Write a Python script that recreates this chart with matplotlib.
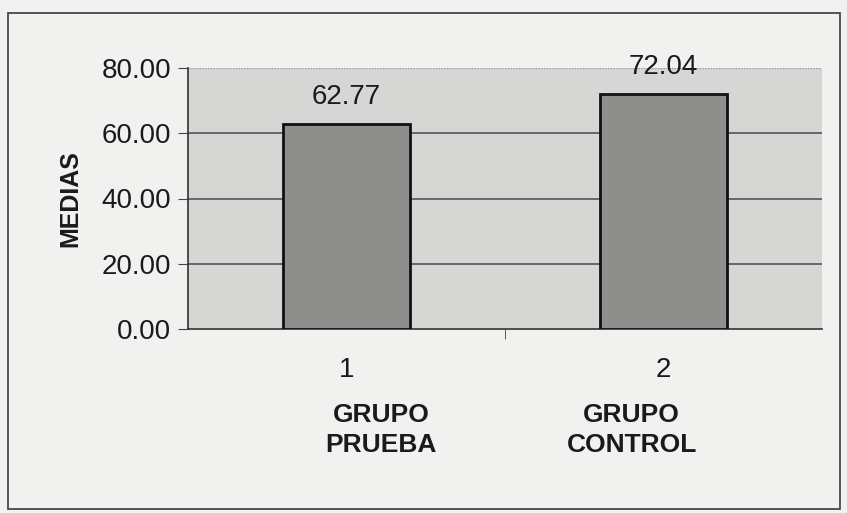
import matplotlib
matplotlib.use("Agg")
import matplotlib.pyplot as plt
from matplotlib.patches import Rectangle
from matplotlib.transforms import blended_transform_factory
import numpy as np

plt.rcParams['font.family'] = ['Liberation Sans', 'DejaVu Sans']

# group means
categories = ['1', '2']
group_names = ['GRUPO\nPRUEBA', 'GRUPO\nCONTROL']
means = [62.77, 72.04]
y_ticks = [0, 20, 40, 60, 80]

paper = '#f1f1ef'
plot_bg = '#d6d6d4'
bar_color = '#8e8e8c'

fig = plt.figure(figsize=(8.47, 5.13), dpi=100, facecolor=paper)

# outer chart frame
fig.patches.append(Rectangle((8 / 847, 1 - 509 / 513), 832 / 847, 496 / 513,
                             transform=fig.transFigure, fill=False,
                             edgecolor='#3a3a3a', linewidth=1.2))

ax = fig.add_axes([188 / 847, 1 - 329 / 513, 634 / 847, 261 / 513])
ax.set_facecolor(plot_bg)

x = np.arange(1, len(means) + 1)
ax.bar(x, means, width=0.4, color=bar_color, edgecolor='#111111',
       linewidth=2.0, zorder=3)

for xi, v in zip(x, means):
    ax.annotate(f'{v:.2f}', (xi, v), xytext=(0, 10), textcoords='offset points',
                ha='center', va='bottom', fontsize=20, color='#1a1a1a')

ax.set_xlim(0.5, 2.5)
ax.set_ylim(0, 80)
ax.set_yticks(y_ticks)
ax.set_yticklabels([f'{t:.2f}' for t in y_ticks], fontsize=20, color='#1a1a1a')
ax.set_xticks(x)
ax.set_xticklabels(categories, fontsize=20, color='#1a1a1a')
ax.set_xticks([1.5], minor=True)
ax.tick_params(axis='x', which='major', length=0, pad=20)
ax.tick_params(axis='x', which='minor', length=7, direction='out', color='#444444')
ax.tick_params(axis='y', length=7, direction='out', color='#444444', pad=5)

for t in y_ticks[1:-1]:
    ax.axhline(t, color='#4a4a4a', linewidth=1.1, zorder=2)
ax.axhline(80, color='#9a9a9a', linewidth=1.0, linestyle=(0, (1, 1)), zorder=2)

for side in ['top', 'right']:
    ax.spines[side].set_visible(False)
ax.spines['left'].set_color('#333333')
ax.spines['bottom'].set_color('#333333')
ax.spines['left'].set_linewidth(1.2)
ax.spines['bottom'].set_linewidth(1.2)

ax.set_ylabel('MEDIAS', fontsize=18, fontweight='bold', color='#1a1a1a', labelpad=14)

# group names under the category numbers
trans = blended_transform_factory(ax.transData, fig.transFigure)
name_shift = [0.11, -0.10]
for xi, name, dx in zip(x, group_names, name_shift):
    ax.text(xi + dx, 1 - 430 / 513, name, transform=trans, ha='center', va='center',
            fontsize=19, fontweight='bold', color='#1a1a1a', linespacing=1.3)

fig.savefig('out.png', dpi=100, facecolor=paper)
